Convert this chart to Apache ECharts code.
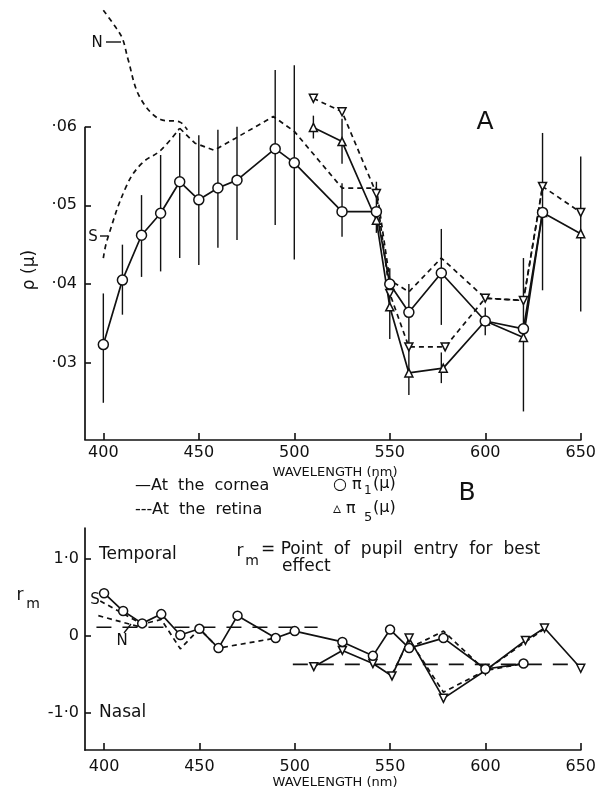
<!DOCTYPE html>
<html><head><meta charset="utf-8">
<script src="https://cdn.jsdelivr.net/npm/echarts@6/dist/echarts.min.js"></script>
<style>html,body{margin:0;padding:0;background:#fff}#c{width:599px;height:793px}</style>
</head><body><div id="c"></div>
<script>
// ---------- Panel A : p(mu) vs wavelength ----------
const aCorneaPi1 = [[400,0.0323],[410,0.0405],[420,0.0462],[430,0.0490],[440,0.0530],[450,0.0507],[460,0.0522],[470,0.0532],[490,0.0572],[500,0.0554],[525,0.0492],[543,0.0492],[550,0.0400],[560,0.0364],[577,0.0414],[600,0.0353],[620,0.0343],[630,0.0491]];
const aRetinaPi1S = [[400,0.0433],[402,0.0456],[412,0.0524],[420,0.0553],[430,0.0570],[440,0.0598]];
const aRetinaPi1 = [[440,0.0598],[448,0.0579],[458,0.0570],[469,0.0585],[489,0.0613],[500,0.0594],[525,0.0522],[543,0.0522],[550,0.0405],[560,0.0390],[577,0.0433],[600,0.0382],[620,0.0379],[630,0.0524]];
const aRetinaN = [[400,0.0748],[406,0.0728],[410,0.0712],[413,0.0685],[419,0.0638],[430,0.0609],[440,0.0606],[444,0.0596]];
const aCorneaPi5 = [[510,0.0599],[525,0.0581],[543,0.0481],[550,0.0371],[560,0.0287],[578,0.0293],[600,0.0353],[620,0.0332],[630,0.0491],[650,0.0464]];
const aRetinaPi5 = [[510,0.0636],[525,0.0619],[543,0.0515],[550,0.0388],[560,0.0320],[579,0.0320],[600,0.0382],[620,0.0379],[630,0.0524],[650,0.0491]];
const errWl = [400,410,420,430,440,450,460,470,490,500,510,525,525,543,550,560,577,577,600,620,630,650];
const errLo = [0.0249,0.0361,0.0409,0.0416,0.0433,0.0424,0.0446,0.0456,0.0475,0.0431,0.0585,0.0553,0.0460,0.0465,0.0330,0.0259,0.0348,0.0274,0.0335,0.0238,0.0392,0.0365];
const errHi = [0.0388,0.0450,0.0513,0.0564,0.0592,0.0589,0.0596,0.0600,0.0672,0.0678,0.0614,0.0610,0.0528,0.0530,0.0420,0.0400,0.0470,0.0313,0.0370,0.0433,0.0592,0.0562];
const aYTicks = [0.03,0.04,0.05,0.06];
const aYLabels = ['·03','·04','·05','·06'];

// ---------- Panel B : r_m vs wavelength ----------
const bCorneaPi1 = [[400,0.55],[410,0.32],[420,0.16],[430,0.28],[440,0.01],[450,0.09],[460,-0.16],[470,0.26],[490,-0.03],[500,0.06],[525,-0.08],[541,-0.26],[550,0.08],[560,-0.16],[578,-0.03],[600,-0.43],[620,-0.36]];
const bRetinaPi1S = [[398,0.45],[420,0.15],[430,0.21],[440,-0.17],[450,0.09],[460,-0.16],[490,-0.03]];
const bRetinaPi1R = [[560,-0.16],[578,0.06],[600,-0.45],[620,-0.36]];
const bRetinaN = [[397,0.26],[418,0.12]];
const bCorneaPi5 = [[510,-0.40],[525,-0.19],[541,-0.36],[551,-0.52],[560,-0.03],[578,-0.81],[600,-0.45],[621,-0.06],[631,0.10],[650,-0.42]];
const bRetinaPi5 = [[551,-0.50],[560,-0.05],[578,-0.73],[600,-0.45],[621,-0.08],[631,0.09]];
const bMeanUpper = [[396,0.11],[512,0.11]];
const bMeanLower = [[499,-0.37],[646,-0.37]];
const bYTicks = [-1,0,1];
const bYLabels = ['-1·0','0','1·0'];

const xTicks = [400,450,500,550,600,650];
const A_XMIN = 390.4, A_YMIN = 0.02017, A_YMAX = 0.07483;
const B_XMIN = 390.0, B_YMIN = -1.478, B_YMAX = 1.394;

const FONT = '"DejaVu Sans", sans-serif';
const INK = '#111';

function ln(data, g, dashed, sym, extra) {
  const s = {
    type: 'line', xAxisIndex: g, yAxisIndex: g, data: data,
    lineStyle: {color: INK, width: 1.7, type: dashed ? [5, 4] : 'solid'},
    symbol: sym ? sym.symbol : 'none', symbolSize: sym ? sym.size : 0,
    symbolRotate: sym && sym.rot ? sym.rot : 0,
    itemStyle: {color: '#fff', borderColor: INK, borderWidth: 1.5},
    showSymbol: !!sym, silent: true, animation: false, clip: false, z: 3
  };
  return Object.assign(s, extra || {});
}
const CIRC = {symbol: 'circle', size: 10};
const CIRC_B = {symbol: 'circle', size: 9};
const TRI_UP = {symbol: 'triangle', size: 8};
const TRI_DN = {symbol: 'triangle', size: 8, rot: 180};

function xAxisCfg(g, min, margin) {
  return {
    type: 'value', gridIndex: g, min: min, max: 650,
    axisLine: {show: true, onZero: false, lineStyle: {color: INK, width: 1.7}},
    axisTick: {show: true, inside: true, length: 7, customValues: xTicks, lineStyle: {color: INK, width: 1.6}},
    axisLabel: {show: true, customValues: xTicks, margin: margin, color: INK, fontFamily: FONT, fontSize: 16},
    splitLine: {show: false}
  };
}

const chart = echarts.init(document.getElementById('c'), null, {renderer: 'canvas'});
const option = {
  backgroundColor: '#fff',
  animation: false,
  grid: [
    {left: 85, right: 18, top: 10, height: 430},
    {left: 85, right: 17, top: 528, height: 222}
  ],
  xAxis: [xAxisCfg(0, A_XMIN, 5), xAxisCfg(1, B_XMIN, 9)],
  yAxis: [
    {type: 'value', gridIndex: 0, min: A_YMIN, max: A_YMAX,
     axisLine: {show: false},
     axisTick: {show: true, inside: true, length: 6, customValues: aYTicks, lineStyle: {color: INK, width: 1.6}},
     axisLabel: {show: true, customValues: aYTicks, margin: 8, color: INK, fontFamily: FONT, fontSize: 16,
       formatter: v => { const i = aYTicks.findIndex(t => Math.abs(t - v) < 1e-6); return i >= 0 ? aYLabels[i] : ''; }},
     splitLine: {show: false}},
    {type: 'value', gridIndex: 1, min: B_YMIN, max: B_YMAX,
     axisLine: {show: true, onZero: false, lineStyle: {color: INK, width: 1.7}},
     axisTick: {show: true, inside: true, length: 6, customValues: bYTicks, lineStyle: {color: INK, width: 1.6}},
     axisLabel: {show: true, customValues: bYTicks, margin: 6, color: INK, fontFamily: FONT, fontSize: 16,
       formatter: v => { const i = bYTicks.findIndex(t => Math.abs(t - v) < 1e-6); return i >= 0 ? bYLabels[i] : ''; }},
     splitLine: {show: false}}
  ],
  series: [
    // left axis line of panel A (only spans up to .06)
    {type: 'line', xAxisIndex: 0, yAxisIndex: 0, data: [[A_XMIN, A_YMIN], [A_XMIN, aYTicks[aYTicks.length - 1]]],
     symbol: 'none', lineStyle: {color: INK, width: 1.7}, silent: true, clip: false, z: 2},
    // error bars
    {type: 'custom', xAxisIndex: 0, yAxisIndex: 0, silent: true, z: 1, clip: false,
     data: errWl.map((w, i) => [w, errLo[i], errHi[i]]),
     encode: {x: 0, y: [1, 2]},
     renderItem: (params, api) => {
       const p1 = api.coord([api.value(0), api.value(1)]);
       const p2 = api.coord([api.value(0), api.value(2)]);
       return {type: 'line', shape: {x1: p1[0], y1: p1[1], x2: p2[0], y2: p2[1]}, style: {stroke: INK, lineWidth: 1.4}};
     }},
    ln(aRetinaN, 0, true, null, {smooth: 0.35}),
    ln(aRetinaPi1S, 0, true, null, {smooth: 0.4}),
    ln(aRetinaPi1, 0, true, null),
    ln(aRetinaPi5, 0, true, TRI_DN),
    ln(aCorneaPi5, 0, false, TRI_UP),
    ln(aCorneaPi1, 0, false, CIRC),
    // panel B
    ln(bMeanUpper, 1, false, null, {lineStyle: {color: INK, width: 1.6, type: [15, 11]}}),
    ln(bMeanLower, 1, false, null, {lineStyle: {color: INK, width: 1.6, type: [15, 11]}}),
    ln(bRetinaN, 1, true, null),
    ln(bRetinaPi1S, 1, true, null),
    ln(bRetinaPi1R, 1, true, null),
    ln(bRetinaPi5, 1, true, null),
    ln(bCorneaPi5, 1, false, TRI_DN),
    ln(bCorneaPi1, 1, false, CIRC_B)
  ],
  graphic: [
    // panel A annotations
    {type: 'text', x: 30, y: 270, rotation: Math.PI / 2, style: {text: 'ρ (μ)', font: '17px ' + FONT, fill: INK, textAlign: 'center', textVerticalAlign: 'middle'}},
    {type: 'text', x: 97, y: 43, style: {text: 'N', font: '15px ' + FONT, fill: INK, textAlign: 'center', textVerticalAlign: 'middle'}},
    {type: 'line', shape: {x1: 106, y1: 42, x2: 121, y2: 42}, style: {stroke: INK, lineWidth: 1.4}},
    {type: 'text', x: 93, y: 237, style: {text: 'S', font: '15px ' + FONT, fill: INK, textAlign: 'center', textVerticalAlign: 'middle'}},
    {type: 'line', shape: {x1: 100, y1: 236, x2: 108, y2: 236}, style: {stroke: INK, lineWidth: 1.4}},
    {type: 'text', x: 485, y: 122, style: {text: 'A', font: '25px ' + FONT, fill: INK, textAlign: 'center', textVerticalAlign: 'middle'}},
    {type: 'text', x: 335, y: 473, style: {text: 'WAVELENGTH (nm)', font: '13px ' + FONT, fill: INK, textAlign: 'center', textVerticalAlign: 'middle'}},
    // legend
    {type: 'text', x: 135, y: 486, style: {text: '—At  the  cornea', font: '16px ' + FONT, fill: INK, textAlign: 'left', textVerticalAlign: 'middle'}},
    {type: 'text', x: 135, y: 510, style: {text: '---At  the  retina', font: '16px ' + FONT, fill: INK, textAlign: 'left', textVerticalAlign: 'middle'}},
    {type: 'text', x: 333, y: 485, style: {text: '○ π', font: '16px ' + FONT, fill: INK, textAlign: 'left', textVerticalAlign: 'middle'}},
    {type: 'text', x: 364, y: 491, style: {text: '1', font: '12px ' + FONT, fill: INK, textAlign: 'left', textVerticalAlign: 'middle'}},
    {type: 'text', x: 373, y: 484, style: {text: '(μ)', font: '16px ' + FONT, fill: INK, textAlign: 'left', textVerticalAlign: 'middle'}},
    {type: 'text', x: 333, y: 509, style: {text: '▵ π', font: '16px ' + FONT, fill: INK, textAlign: 'left', textVerticalAlign: 'middle'}},
    {type: 'text', x: 364, y: 518, style: {text: '5', font: '13px ' + FONT, fill: INK, textAlign: 'left', textVerticalAlign: 'middle'}},
    {type: 'text', x: 373, y: 508, style: {text: '(μ)', font: '16px ' + FONT, fill: INK, textAlign: 'left', textVerticalAlign: 'middle'}},
    {type: 'text', x: 467, y: 493, style: {text: 'B', font: '25px ' + FONT, fill: INK, textAlign: 'center', textVerticalAlign: 'middle'}},
    // panel B annotations
    {type: 'text', x: 20, y: 596, style: {text: 'r', font: '17px ' + FONT, fill: INK, textAlign: 'center', textVerticalAlign: 'middle'}},
    {type: 'text', x: 33, y: 604, style: {text: 'm', font: '14px ' + FONT, fill: INK, textAlign: 'center', textVerticalAlign: 'middle'}},
    {type: 'text', x: 99, y: 555, style: {text: 'Temporal', font: '17px ' + FONT, fill: INK, textAlign: 'left', textVerticalAlign: 'middle'}},
    {type: 'text', x: 99, y: 713, style: {text: 'Nasal', font: '17px ' + FONT, fill: INK, textAlign: 'left', textVerticalAlign: 'middle'}},
    {type: 'text', x: 240, y: 552, style: {text: 'r', font: '17px ' + FONT, fill: INK, textAlign: 'center', textVerticalAlign: 'middle'}},
    {type: 'text', x: 252, y: 561, style: {text: 'm', font: '14px ' + FONT, fill: INK, textAlign: 'center', textVerticalAlign: 'middle'}},
    {type: 'text', x: 261, y: 550, style: {text: '= Point  of  pupil  entry  for  best', font: '17px ' + FONT, fill: INK, textAlign: 'left', textVerticalAlign: 'middle'}},
    {type: 'text', x: 282, y: 567, style: {text: 'effect', font: '17px ' + FONT, fill: INK, textAlign: 'left', textVerticalAlign: 'middle'}},
    {type: 'text', x: 95, y: 600, style: {text: 'S', font: '15px ' + FONT, fill: INK, textAlign: 'center', textVerticalAlign: 'middle'}},
    {type: 'text', x: 122, y: 641, style: {text: 'N', font: '15px ' + FONT, fill: INK, textAlign: 'center', textVerticalAlign: 'middle'}},
    {type: 'line', shape: {x1: 124, y1: 633, x2: 131, y2: 624}, style: {stroke: INK, lineWidth: 1.3}},
    {type: 'text', x: 335, y: 783, style: {text: 'WAVELENGTH (nm)', font: '13px ' + FONT, fill: INK, textAlign: 'center', textVerticalAlign: 'middle'}}
  ]
};
chart.setOption(option);
</script>
</body></html>
